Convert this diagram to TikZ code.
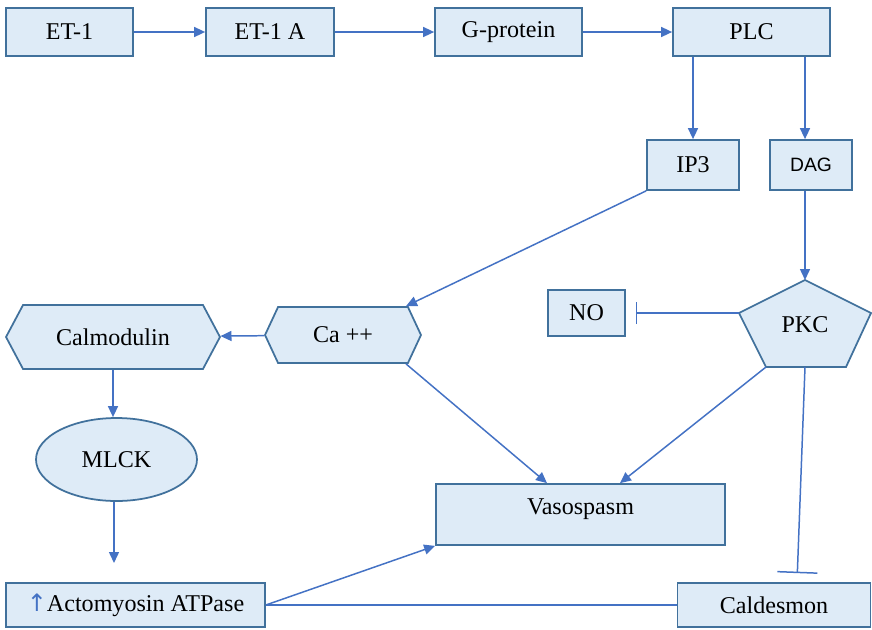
\documentclass[tikz,border=0pt]{standalone}
\usepackage{fontspec}
\setmainfont{Liberation Serif}
\newfontfamily\dagfont{Liberation Sans}
\newfontfamily\arrowfont{DejaVu Sans}
\usetikzlibrary{arrows.meta,shapes.geometric,shapes.symbols,calc}
\definecolor{boxfill}{HTML}{DEEBF7}
\definecolor{boxline}{HTML}{41719C}
\definecolor{linkblue}{HTML}{4472C4}

\begin{document}
\begin{tikzpicture}[x=0.02cm,y=-0.02cm,->,>={Triangle[length=0.22cm,width=0.2cm]},
  every edge/.style={draw=linkblue,line width=0.85pt},
  main node/.style={rectangle,draw=boxline,fill=boxfill,line width=1pt,inner sep=0pt,font=\fontsize{13.7}{16}\selectfont},
  hex node/.style={signal,signal to=west and east,draw=boxline,fill=boxfill,line width=1pt,inner sep=0pt,font=\fontsize{13.7}{16}\selectfont},
  oval node/.style={ellipse,draw=boxline,fill=boxfill,line width=1pt,inner sep=0pt,font=\fontsize{13.7}{16}\selectfont}]

\useasboundingbox (0,0) rectangle (872,629);

% top row
\node[main node,minimum width=2.54cm,minimum height=0.96cm](et1) at (69.5,32) {ET-1};
\node[main node,minimum width=2.56cm,minimum height=0.96cm](et1a) at (270,32) {ET-1 A};
\node[main node,minimum width=2.94cm,minimum height=0.96cm](gprot) at (508.5,32) {G-protein};
\node[main node,minimum width=3.14cm,minimum height=0.96cm](plc) at (751.5,32) {PLC};
\node[main node,minimum width=1.84cm,minimum height=1cm](ip3) at (693,165) {IP3};
\node[main node,minimum width=1.64cm,minimum height=1cm,font=\dagfont\fontsize{11}{13}\selectfont](dag) at (811,165) {DAG};
\node[main node,minimum width=1.54cm,minimum height=0.92cm](no) at (586.5,313) {NO};

% PKC
\coordinate (pkctop) at (805,280);
\coordinate (pkcright) at (871,313);
\coordinate (pkcbr) at (846,367);
\coordinate (pkcbl) at (766,367);
\coordinate (pkcleft) at (739,313);
\coordinate (pkcbot) at (805,367);
\draw[-,draw=boxline,fill=boxfill,line width=1pt] (pkctop) -- (pkcright) -- (pkcbr) -- (pkcbl) -- (pkcleft) -- cycle;
\node[font=\fontsize{13.7}{16}\selectfont](pkc) at (805,325) {PKC};

\node[hex node,signal pointer angle=124,minimum width=4.28cm,minimum height=1.28cm](calm) at (113,337) {Calmodulin};
\node[hex node,signal pointer angle=130,minimum width=3.12cm,minimum height=1.12cm](ca) at (343,335) {Ca ++};
\node[oval node,minimum width=3.22cm,minimum height=1.66cm](mlck) at (116.5,459.5) {MLCK};
\node[main node,minimum width=5.78cm,text height=0.6cm,text depth=0.62cm](vaso) at (580.5,514.5) {Vasospasm};
\node[main node,minimum width=5.18cm,minimum height=0.88cm](atp) at (135.5,605) {{\arrowfont\color{linkblue}↑}Actomyosin ATPase};
\node[main node,minimum width=3.86cm,minimum height=0.88cm](cald) at (774,605) {Caldesmon};
\coordinate (atpin) at (114,563);

\path
(et1) edge (et1a)
(et1a) edge (gprot)
(gprot) edge (plc)
(ip3.north |- plc.south) edge (ip3.north)
(pkctop |- plc.south) edge (pkctop |- dag.north)
(pkctop |- dag.south) edge (pkctop)
(ip3.south west) edge ([xshift=1.26cm]ca.north)
(ca) edge (calm)
([xshift=1.26cm]ca.south) edge ([xshift=-0.67cm]vaso.north)
(pkcbl) edge ([xshift=0.79cm]vaso.north)
(pkcleft) edge[-{Bar[width=0.44cm]},shorten >=0.2cm] (no.east)
(pkcbot) edge[-{Bar[width=0.8cm]},shorten >=0.18cm] ([xshift=0.46cm]cald.north)
(calm.south) edge (calm.south |- mlck.north)
(mlck.south -| atpin) edge (atpin)
(atp.east) edge (vaso.south west)
(atp.east) edge[-] (cald.west);
\end{tikzpicture}
\end{document}
